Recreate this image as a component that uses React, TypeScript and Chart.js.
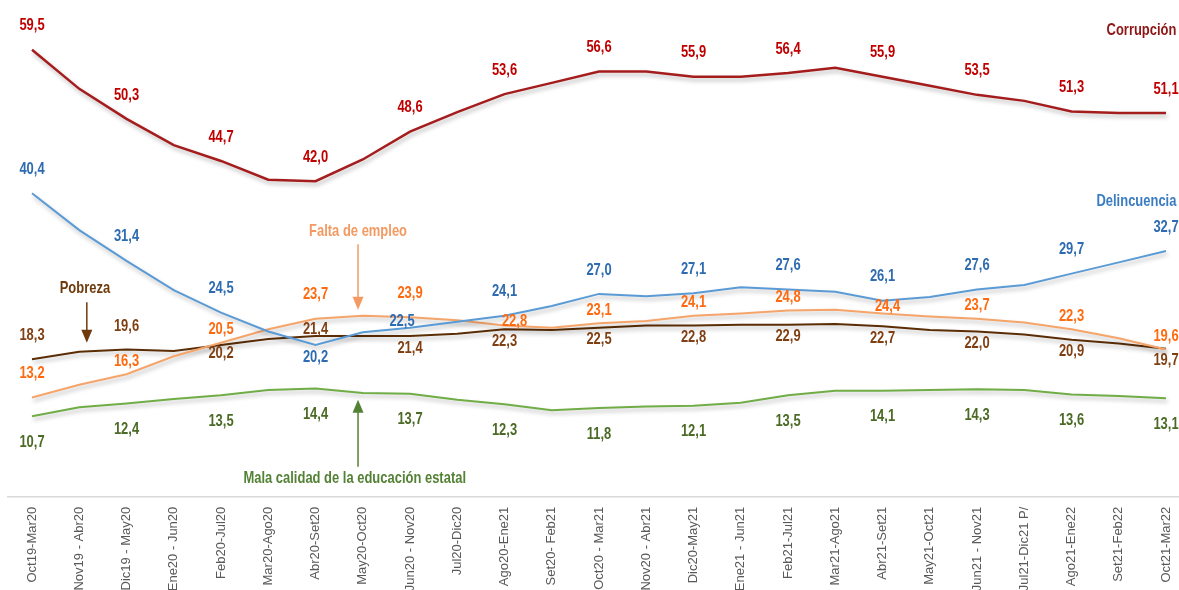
import React, { useEffect, useRef } from "react";
import { Chart, registerables } from "chart.js";

Chart.register(...registerables);

const categories = [
  "Oct19-Mar20", "Nov19 - Abr20", "Dic19 - May20", "Ene20 - Jun20", "Feb20-Jul20",
  "Mar20-Ago20", "Abr20-Set20", "May20-Oct20", "Jun20 - Nov20", "Jul20-Dic20",
  "Ago20-Ene21", "Set20- Feb21", "Oct20 - Mar21", "Nov20 - Abr21", "Dic20-May21",
  "Ene21 - Jun21", "Feb21-Jul21", "Mar21-Ago21", "Abr21-Set21", "May21-Oct21",
  "Jun21 - Nov21", "Jul21-Dic21 P/", "Ago21-Ene22", "Set21-Feb22", "Oct21-Mar22",
];

const corrupcion = [59.5, 54.3, 50.3, 46.8, 44.7, 42.2, 42.0, 44.9, 48.6, 51.2, 53.6, 55.1, 56.6, 56.6, 55.9, 55.9, 56.4, 57.1, 55.9, 54.7, 53.5, 52.7, 51.3, 51.1, 51.1];
const delincuencia = [40.4, 35.5, 31.4, 27.5, 24.5, 22.0, 20.2, 21.9, 22.5, 23.3, 24.1, 25.4, 27.0, 26.7, 27.1, 27.9, 27.6, 27.3, 26.1, 26.6, 27.6, 28.2, 29.7, 31.2, 32.7];
const faltaEmpleo = [13.2, 14.9, 16.3, 18.7, 20.5, 22.3, 23.7, 24.1, 23.9, 23.5, 22.8, 22.5, 23.1, 23.4, 24.1, 24.4, 24.8, 24.9, 24.4, 24.0, 23.7, 23.2, 22.3, 21.1, 19.6];
const pobreza = [18.3, 19.3, 19.6, 19.4, 20.2, 21.0, 21.4, 21.4, 21.4, 21.7, 22.3, 22.2, 22.5, 22.8, 22.8, 22.9, 22.9, 23.0, 22.7, 22.2, 22.0, 21.6, 20.9, 20.4, 19.7];
const educacion = [10.7, 11.9, 12.4, 13.0, 13.5, 14.2, 14.4, 13.8, 13.7, 12.9, 12.3, 11.5, 11.8, 12.0, 12.1, 12.5, 13.5, 14.1, 14.1, 14.2, 14.3, 14.2, 13.6, 13.4, 13.1];

// Arial-Narrow-like look: bold Liberation Sans squeezed horizontally
const LABEL_FONT = 'bold 16px "Liberation Sans", Arial, sans-serif';
const NARROW = 0.81;

type Off = { dx?: number; dy: number };
const seriesStyle = [
  { name: "Corrupción", values: corrupcion, line: "#A51C1C", label: "#C00000", width: 2.5, dy: -24, over: {} as Record<number, Off> },
  { name: "Delincuencia", values: delincuencia, line: "#5B9BD5", label: "#2E6BB0", width: 2, dy: -24, over: { 6: { dy: 12 }, 8: { dx: -8, dy: -6 } } as Record<number, Off> },
  { name: "Falta de empleo", values: faltaEmpleo, line: "#F5A46A", label: "#FF6A0F", width: 2, dy: -13, over: { 0: { dy: -24 }, 6: { dy: -24 }, 8: { dy: -24 }, 10: { dx: 10, dy: -4 }, 18: { dx: 5, dy: -7 } } as Record<number, Off> },
  { name: "Pobreza", values: pobreza, line: "#5A2D05", label: "#7F3F12", width: 2, dy: 12, over: { 0: { dy: -24 }, 2: { dy: -23 }, 4: { dy: 8 }, 6: { dy: -7 } } as Record<number, Off> },
  { name: "Mala calidad de la educación estatal", values: educacion, line: "#70AD47", label: "#4A6A25", width: 2, dy: 26, over: {} as Record<number, Off> },
];

const fmt = (v: number) => v.toFixed(1).replace(".", ",");

const shadowPlugin = {
  id: "lineShadow",
  beforeDatasetDraw(chart: any) {
    const ctx = chart.ctx;
    ctx.save();
    ctx.shadowColor = "rgba(0,0,0,0.28)";
    ctx.shadowBlur = 4;
    ctx.shadowOffsetX = 1.5;
    ctx.shadowOffsetY = 3;
  },
  afterDatasetDraw(chart: any) {
    chart.ctx.restore();
  },
};

const narrowText = (ctx: CanvasRenderingContext2D, t: string, x: number, y: number, color: string, align: CanvasTextAlign) => {
  ctx.save();
  ctx.fillStyle = color;
  ctx.textAlign = align;
  ctx.textBaseline = "middle";
  ctx.font = LABEL_FONT;
  ctx.translate(x, y);
  ctx.scale(NARROW, 1.05);
  ctx.fillText(t, 0, 0);
  ctx.restore();
};

const labelsPlugin = {
  id: "valueLabels",
  afterDatasetsDraw(chart: any) {
    const ctx = chart.ctx as CanvasRenderingContext2D;
    const xs = chart.scales.x;
    const ys = chart.scales.y;
    seriesStyle.forEach((s) => {
      s.values.forEach((v, i) => {
        if (i % 2 !== 0) return;
        const o = s.over[i] || { dy: s.dy };
        const x = xs.getPixelForValue(i) + (o.dx || 0);
        const y = ys.getPixelForValue(v) + o.dy;
        narrowText(ctx, fmt(v), x, y, s.label, "center");
      });
    });

    // series names and arrows (positioned in data space)
    const X = (v: number) => xs.getPixelForValue(v);
    const Y = (v: number) => ys.getPixelForValue(v);
    const arrow = (x: number, y1: number, y2: number, color: string) => {
      ctx.save();
      ctx.strokeStyle = color;
      ctx.fillStyle = color;
      ctx.lineWidth = 1.5;
      const dir = y2 > y1 ? 1 : -1;
      ctx.beginPath();
      ctx.moveTo(x, y1);
      ctx.lineTo(x, y2 - dir * 10);
      ctx.stroke();
      ctx.beginPath();
      ctx.moveTo(x - 5.5, y2 - dir * 13);
      ctx.lineTo(x + 5.5, y2 - dir * 13);
      ctx.lineTo(x, y2);
      ctx.closePath();
      ctx.fill();
      ctx.restore();
    };
    narrowText(ctx, "Corrupción", X(24.22), Y(62.1), "#8E1616", "right");
    narrowText(ctx, "Delincuencia", X(24.22), Y(39.3), "#3A7CC2", "right");
    narrowText(ctx, "Falta de empleo", X(6.9), Y(35.3), "#F29A62", "center");
    arrow(X(6.9), Y(33.6), Y(24.9), "#F29A62");
    narrowText(ctx, "Pobreza", X(1.12), Y(27.8), "#6E3A0C", "center");
    arrow(X(1.16), Y(25.9), Y(20.5), "#6E3A0C");
    narrowText(ctx, "Mala calidad de la educación estatal", X(6.83), Y(2.5), "#548235", "center");
    arrow(X(6.9), Y(4.0), Y(12.9), "#548235");
  },
};

export default function App() {
  const ref = useRef<HTMLCanvasElement | null>(null);
  useEffect(() => {
    if (!ref.current) return;
    const chart = new Chart(ref.current, {
      type: "line",
      data: {
        datasets: seriesStyle.map((s) => ({
          label: s.name,
          data: s.values.map((v, i) => ({ x: i, y: v })),
          borderColor: s.line,
          backgroundColor: s.line,
          borderWidth: s.width,
          pointRadius: 0,
          tension: 0,
          fill: false,
        })),
      },
      options: {
        responsive: false,
        animation: false,
        layout: { padding: { top: 16, left: 8, right: 0, bottom: 0 } },
        plugins: { legend: { display: false }, tooltip: { enabled: false } },
        scales: {
          x: {
            type: "linear",
            min: -0.508,
            max: 24.275,
            grid: { display: false, drawTicks: false },
            border: { display: true, color: "#D9D9D9", width: 1.5 },
            afterBuildTicks: (scale: any) => {
              scale.ticks = categories.map((_, i) => ({ value: i }));
            },
            afterFit: (scale: any) => {
              scale.height = 93.3;
              scale.paddingLeft = 0;
              scale.paddingRight = 0;
            },
            ticks: {
              autoSkip: false,
              minRotation: 90,
              maxRotation: 90,
              padding: 10,
              color: "#595959",
              font: { family: '"Liberation Sans", Arial, sans-serif', size: 13 },
              callback: (v: any) => categories[Math.round(Number(v))] ?? "",
            },
          },
          y: {
            display: false,
            min: 0,
            max: 64,
          },
        },
      },
      plugins: [shadowPlugin, labelsPlugin],
    });
    return () => chart.destroy();
  }, []);
  return (
    <div style={{ position: "absolute", left: 0, top: 0, width: 1179, height: 590, background: "#fff" }}>
      <canvas ref={ref} width={1179} height={590} style={{ display: "block" }} />
    </div>
  );
}
